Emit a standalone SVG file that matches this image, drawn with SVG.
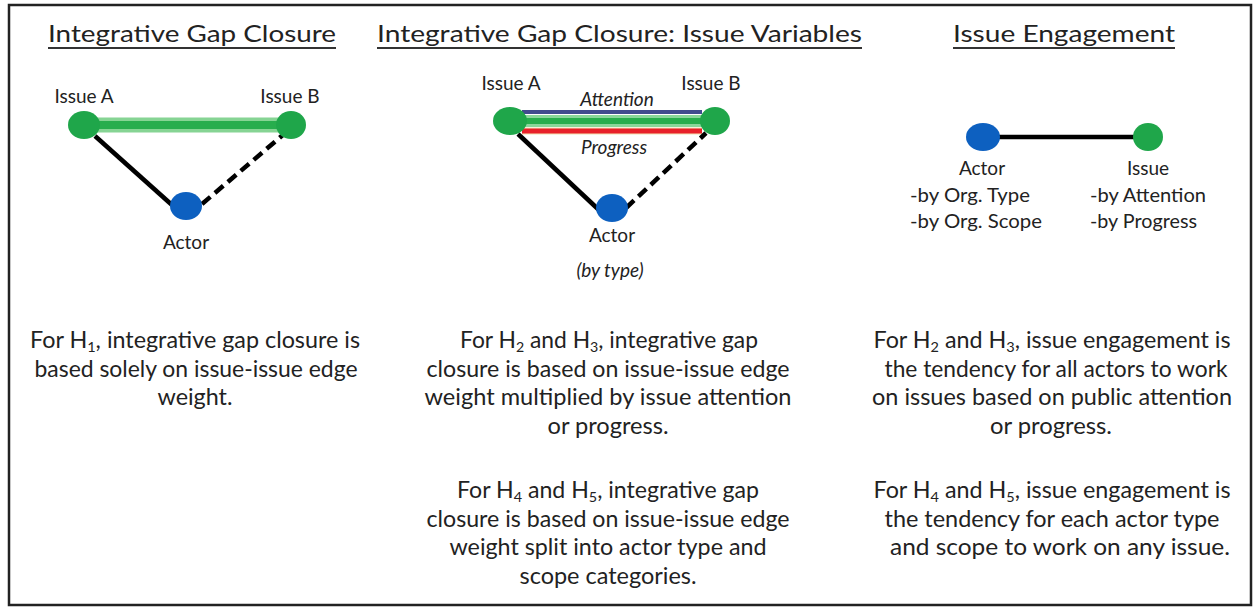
<svg xmlns="http://www.w3.org/2000/svg" width="1255" height="607" viewBox="0 0 1255 607">
<style>
text{font-family:Lato,"Liberation Sans",sans-serif;fill:#222}
.title{font-size:24px}
.lbl{font-size:19px;text-anchor:middle}
.lbls{font-size:19px}
.it{font-style:italic}
.body{font-size:22.5px;text-anchor:middle}
.sub{font-size:14px}
.ul{stroke:#333;stroke-width:2}
.solid{stroke:#000;stroke-width:4.5;fill:none}
.dash{stroke:#000;stroke-width:4.5;stroke-dasharray:11 6;fill:none}
.issue{fill:#1fa64a}
.actor{fill:#0d60c0}
</style>
<rect x="9" y="5" width="1242" height="600" fill="#fff" stroke="#222" stroke-width="2.5"/>

<g id="titles">
<text class="title" x="48" y="42" textLength="288" lengthAdjust="spacingAndGlyphs">Integrative Gap Closure</text>
<line class="ul" x1="48" y1="48" x2="336" y2="48"/>
<text class="title" x="377" y="42" textLength="485" lengthAdjust="spacingAndGlyphs">Integrative Gap Closure: Issue Variables</text>
<line class="ul" x1="377" y1="48" x2="862" y2="48"/>
<text class="title" x="953" y="42" textLength="222" lengthAdjust="spacingAndGlyphs">Issue Engagement</text>
<line class="ul" x1="953" y1="48" x2="1175" y2="48"/>
</g>

<g id="connectors">
<line x1="90" y1="125" x2="284" y2="125" stroke="#86d494" stroke-width="15"/>
<line x1="90" y1="125" x2="284" y2="125" stroke="#27ad4d" stroke-width="8"/>
<line class="solid" x1="95" y1="136" x2="172" y2="205"/>
<line class="dash" x1="202" y1="204" x2="284" y2="134"/>
<line x1="522" y1="112" x2="702" y2="112" stroke="#414b8e" stroke-width="4"/>
<line x1="522" y1="121" x2="702" y2="121" stroke="#8ad69a" stroke-width="12"/>
<line x1="522" y1="121" x2="702" y2="121" stroke="#27ad4d" stroke-width="6"/>
<line x1="522" y1="131" x2="702" y2="131" stroke="#f2e2b0" stroke-width="7"/>
<line x1="522" y1="131" x2="702" y2="131" stroke="#e8202a" stroke-width="5"/>
<line class="solid" x1="518" y1="134" x2="599" y2="210"/>
<line class="dash" x1="626" y1="208" x2="706" y2="133"/>
<line class="solid" x1="998" y1="137" x2="1134" y2="137"/>
</g>

<g id="p1-issueA"><ellipse class="issue" cx="84" cy="125" rx="16" ry="14"/><text class="lbl" x="84" y="103">Issue A</text></g>
<g id="p1-issueB"><ellipse class="issue" cx="291" cy="125" rx="15" ry="14"/><text class="lbl" x="290" y="103">Issue B</text></g>
<g id="p1-actor"><ellipse class="actor" cx="186" cy="206" rx="16" ry="14"/><text class="lbl" x="186" y="249">Actor</text></g>

<g id="p2-issueA"><ellipse class="issue" cx="510" cy="121" rx="17" ry="14"/><text class="lbl" x="511" y="90">Issue A</text></g>
<g id="p2-issueB"><ellipse class="issue" cx="715" cy="121" rx="15" ry="14"/><text class="lbl" x="711" y="90">Issue B</text></g>
<g id="p2-labels">
<text class="lbl it" x="617" y="106">Attention</text>
<text class="lbl it" x="614" y="154">Progress</text>
</g>
<g id="p2-actor"><ellipse class="actor" cx="612" cy="208" rx="16" ry="14"/><text class="lbl" x="612" y="242">Actor</text><text class="lbl it" x="610" y="277">(by type)</text></g>

<g id="p3-actor"><ellipse class="actor" cx="983" cy="137" rx="17" ry="14"/>
<text class="lbl" x="982" y="175">Actor</text>
<text class="lbls" x="910" y="202" textLength="120" lengthAdjust="spacingAndGlyphs">-by Org. Type</text>
<text class="lbls" x="910" y="228" textLength="132" lengthAdjust="spacingAndGlyphs">-by Org. Scope</text>
</g>
<g id="p3-issue"><ellipse class="issue" cx="1148" cy="137" rx="15" ry="14"/>
<text class="lbl" x="1148" y="175">Issue</text>
<text class="lbls" x="1090" y="202" textLength="116" lengthAdjust="spacingAndGlyphs">-by Attention</text>
<text class="lbls" x="1090" y="228" textLength="107" lengthAdjust="spacingAndGlyphs">-by Progress</text>
</g>

<g id="text-p1">
<text class="body" x="195" y="348" textLength="330" lengthAdjust="spacingAndGlyphs">For H<tspan class="sub" dy="4">1</tspan><tspan dy="-4">, integrative gap closure is</tspan></text>
<text class="body" x="196" y="376.5" textLength="323" lengthAdjust="spacingAndGlyphs">based solely on issue-issue edge</text>
<text class="body" x="195" y="405" textLength="75" lengthAdjust="spacingAndGlyphs">weight.</text>
</g>

<g id="text-p2">
<text class="body" x="609" y="348" textLength="298" lengthAdjust="spacingAndGlyphs">For H<tspan class="sub" dy="4">2</tspan><tspan dy="-4"> and H</tspan><tspan class="sub" dy="4">3</tspan><tspan dy="-4">, integrative gap</tspan></text>
<text class="body" x="608" y="376.5" textLength="363" lengthAdjust="spacingAndGlyphs">closure is based on issue-issue edge</text>
<text class="body" x="608" y="405" textLength="367" lengthAdjust="spacingAndGlyphs">weight multiplied by issue attention</text>
<text class="body" x="608" y="433.5" textLength="121" lengthAdjust="spacingAndGlyphs">or progress.</text>
<text class="body" x="608" y="498" textLength="302" lengthAdjust="spacingAndGlyphs">For H<tspan class="sub" dy="4">4</tspan><tspan dy="-4"> and H</tspan><tspan class="sub" dy="4">5</tspan><tspan dy="-4">, integrative gap</tspan></text>
<text class="body" x="608" y="526.5" textLength="363" lengthAdjust="spacingAndGlyphs">closure is based on issue-issue edge</text>
<text class="body" x="608" y="555" textLength="317" lengthAdjust="spacingAndGlyphs">weight split into actor type and</text>
<text class="body" x="608" y="583.5" textLength="177" lengthAdjust="spacingAndGlyphs">scope categories.</text>
</g>

<g id="text-p3">
<text class="body" x="1052" y="348" textLength="357" lengthAdjust="spacingAndGlyphs">For H<tspan class="sub" dy="4">2</tspan><tspan dy="-4"> and H</tspan><tspan class="sub" dy="4">3</tspan><tspan dy="-4">, issue engagement is</tspan></text>
<text class="body" x="1056" y="376.5" textLength="343" lengthAdjust="spacingAndGlyphs">the tendency for all actors to work</text>
<text class="body" x="1052" y="405" textLength="360" lengthAdjust="spacingAndGlyphs">on issues based on public attention</text>
<text class="body" x="1051" y="433.5" textLength="122" lengthAdjust="spacingAndGlyphs">or progress.</text>
<text class="body" x="1052" y="498" textLength="357" lengthAdjust="spacingAndGlyphs">For H<tspan class="sub" dy="4">4</tspan><tspan dy="-4"> and H</tspan><tspan class="sub" dy="4">5</tspan><tspan dy="-4">, issue engagement is</tspan></text>
<text class="body" x="1052" y="526.5" textLength="335" lengthAdjust="spacingAndGlyphs">the tendency for each actor type</text>
<text class="body" x="1060" y="555" textLength="340" lengthAdjust="spacingAndGlyphs">and scope to work on any issue.</text>
</g>
</svg>
